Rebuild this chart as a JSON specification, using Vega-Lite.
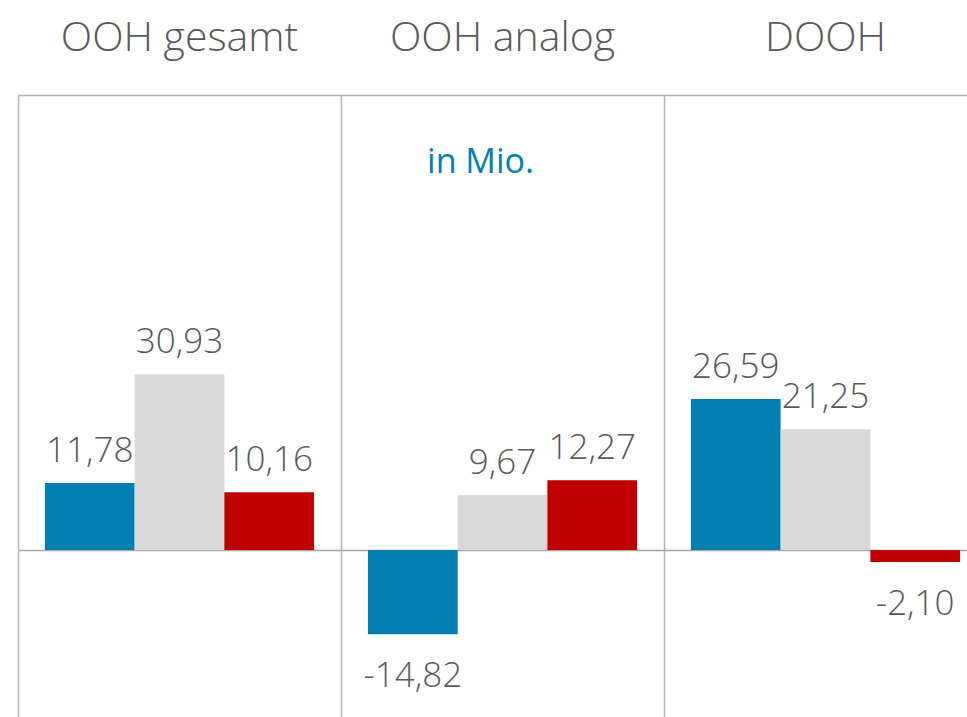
{
  "$schema": "https://vega.github.io/schema/vega-lite/v6.json",
  "width": 949,
  "height": 622,
  "padding": {"left": 18, "top": 95, "right": 0, "bottom": 0},
  "autosize": {"type": "none"},
  "background": "white",
  "config": {
    "view": {"stroke": null},
    "font": "Open Sans",
    "locale": {"number": {"decimal": ",", "thousands": ".", "grouping": [3], "currency": ["", " €"], "minus": "-"}}
  },
  "data": {
    "values": [
      {"Kategorie": "OOH gesamt", "Serie": "Serie 1", "Wert": 11.78},
      {"Kategorie": "OOH gesamt", "Serie": "Serie 2", "Wert": 30.93},
      {"Kategorie": "OOH gesamt", "Serie": "Serie 3", "Wert": 10.16},
      {"Kategorie": "OOH analog", "Serie": "Serie 1", "Wert": -14.82},
      {"Kategorie": "OOH analog", "Serie": "Serie 2", "Wert": 9.67},
      {"Kategorie": "OOH analog", "Serie": "Serie 3", "Wert": 12.27},
      {"Kategorie": "DOOH", "Serie": "Serie 1", "Wert": 26.59},
      {"Kategorie": "DOOH", "Serie": "Serie 2", "Wert": 21.25},
      {"Kategorie": "DOOH", "Serie": "Serie 3", "Wert": -2.10}
    ]
  },
  "layer": [
    {
      "mark": {"type": "bar"},
      "encoding": {
        "x": {
          "field": "Kategorie", "type": "nominal",
          "sort": ["OOH gesamt", "OOH analog", "DOOH"],
          "scale": {"range": [0, 969], "paddingInner": 0, "paddingOuter": 0},
          "axis": {
            "orient": "top", "title": null, "bandPosition": 0,
            "grid": true, "gridColor": "#b4b4b4", "gridWidth": 1.5,
            "domain": true, "domainColor": "#b4b4b4", "domainWidth": 1.5,
            "ticks": false, "tickSize": 0, "labelAngle": 0, "labelLimit": 0,
            "labelAlign": "center", "labelBaseline": "alphabetic", "labelPadding": 45,
            "labelFont": "Open Sans", "labelFontWeight": 300, "labelFontSize": 41, "labelColor": "#595959"
          }
        },
        "xOffset": {"field": "Serie", "type": "nominal", "scale": {"paddingInner": 0, "paddingOuter": 0.3}},
        "y": {
          "field": "Wert", "type": "quantitative",
          "scale": {"domain": [-29.4, 80.1], "nice": false, "zero": false},
          "axis": {"values": [0], "grid": true, "gridColor": "#a6a6a6", "gridWidth": 1.5, "labels": false, "ticks": false, "domain": false, "title": null}
        },
        "color": {"field": "Serie", "type": "nominal", "scale": {"range": ["#007db1", "#d9d9d9", "#c00000"]}, "legend": null}
      }
    },
    {
      "transform": [{"filter": "datum.Wert >= 0"}],
      "mark": {"type": "text", "baseline": "alphabetic", "align": "center", "dy": -21, "fontSize": 35, "fontWeight": 300, "color": "#595959", "font": "Open Sans"},
      "encoding": {
        "x": {"field": "Kategorie", "type": "nominal", "sort": ["OOH gesamt", "OOH analog", "DOOH"]},
        "xOffset": {"field": "Serie", "type": "nominal"},
        "y": {"field": "Wert", "type": "quantitative"},
        "text": {"field": "Wert", "type": "quantitative", "format": ".2f"}
      }
    },
    {
      "transform": [{"filter": "datum.Wert < 0"}],
      "mark": {"type": "text", "baseline": "alphabetic", "align": "center", "dy": 53, "fontSize": 35, "fontWeight": 300, "color": "#595959", "font": "Open Sans"},
      "encoding": {
        "x": {"field": "Kategorie", "type": "nominal", "sort": ["OOH gesamt", "OOH analog", "DOOH"]},
        "xOffset": {"field": "Serie", "type": "nominal"},
        "y": {"field": "Wert", "type": "quantitative"},
        "text": {"field": "Wert", "type": "quantitative", "format": ".2f"}
      }
    },
    {
      "data": {"values": [{"Hinweis": "in Mio."}]},
      "mark": {"type": "text", "baseline": "alphabetic", "align": "center", "dx": -22, "fontSize": 34, "fontWeight": 400, "color": "#0080b3", "font": "Open Sans"},
      "encoding": {
        "x": {"datum": "OOH analog"},
        "y": {"datum": 66.4},
        "text": {"field": "Hinweis"}
      }
    }
  ]
}
